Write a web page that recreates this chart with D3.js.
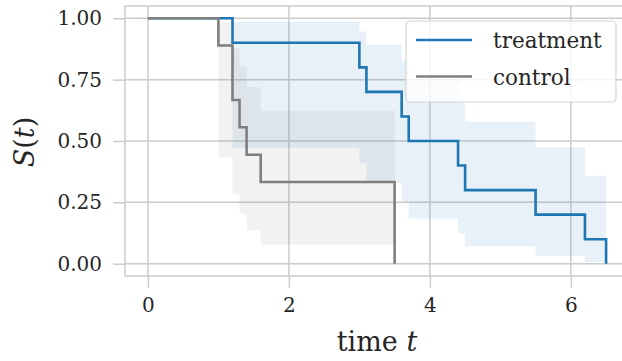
<!DOCTYPE html>
<html lang="en">
<head>
<meta charset="UTF-8">
<title>Survival curves</title>
<script src="https://d3js.org/d3.v7.min.js"></script>
<style>
  body { margin: 0; background: #fff; }
  svg text { font-family: "DejaVu Serif", serif; fill: #262626; }
</style>
</head>
<body>
<div id="chart"></div>
<script>

// Kaplan-Meier estimates (null = no interval once S hits 0)
const treatTimes = [0, 1.2, 3.0, 3.1, 3.6, 3.7, 4.4, 4.5, 5.5, 6.2, 6.5];
const treatSurv  = [1, 0.9, 0.8, 0.7, 0.6, 0.5, 0.4, 0.3, 0.2, 0.1, 0];
const treatUpper = [1, 0.985, 0.946, 0.892, 0.827, 0.753, 0.670, 0.578, 0.475, 0.358, null];
const treatLower = [1, 0.473, 0.409, 0.329, 0.253, 0.184, 0.123, 0.071, 0.031, 0.006, null];

const ctrlTimes = [0, 1.0, 1.2, 1.3, 1.4, 1.6, 3.5];
const ctrlSurv  = [1, 0.889, 0.667, 0.556, 0.444, 0.333, 0];
const ctrlUpper = [1, 0.984, 0.878, 0.805, 0.719, 0.623, null];
const ctrlLower = [1, 0.433, 0.282, 0.204, 0.136, 0.078, null];

const xTicks = [0, 2, 4, 6];
const yTicks = [0, 0.25, 0.5, 0.75, 1];
const seriesNames = ["treatment", "control"];

const W = 622, H = 361;
const mLeft = 125, mTop = 6, mRight = 629, mBottom = 276;
const gridColor = "#cccccc";
const colors = {treatment: "#1f77b4", control: "#7f7f7f"};

const x = d3.scaleLinear().domain([-0.325, 6.825]).range([mLeft, mRight]);
const y = d3.scaleLinear().domain([-0.05, 1.05]).range([mBottom, mTop]);

const svg = d3.select("#chart").append("svg")
    .attr("width", W)
    .attr("height", H);

// grid
svg.append("g").selectAll("line")
    .data(xTicks)
    .join("line")
    .attr("x1", d => x(d)).attr("x2", d => x(d))
    .attr("y1", mTop).attr("y2", mBottom)
    .attr("stroke", gridColor).attr("stroke-width", 1.5);
svg.append("g").selectAll("line")
    .data(yTicks)
    .join("line")
    .attr("x1", mLeft).attr("x2", mRight)
    .attr("y1", d => y(d)).attr("y2", d => y(d))
    .attr("stroke", gridColor).attr("stroke-width", 1.5);

// axes
const xAxis = svg.append("g")
    .attr("transform", `translate(0,${mBottom})`)
    .call(d3.axisBottom(x).tickValues(xTicks).tickFormat(d3.format("d")).tickSize(12).tickPadding(10));
const yAxis = svg.append("g")
    .attr("transform", `translate(${mLeft},0)`)
    .call(d3.axisLeft(y).tickValues(yTicks).tickFormat(d3.format(".2f")).tickSize(12).tickPadding(11));
[xAxis, yAxis].forEach(a => {
  a.select(".domain").remove();
  a.selectAll(".tick line").attr("stroke", gridColor).attr("stroke-width", 1.5);
  a.selectAll(".tick text").attr("font-size", 20).attr("font-family", "DejaVu Serif").attr("fill", "#262626");
});

function bandData(times, lo, hi) {
  return times.map((t, i) => ({
    t: t,
    lo: lo[i] != null ? lo[i] : lo[i - 1],
    hi: hi[i] != null ? hi[i] : hi[i - 1]
  }));
}

const band = d3.area()
    .curve(d3.curveStepAfter)
    .x(d => x(d.t))
    .y0(d => y(d.lo))
    .y1(d => y(d.hi));

const line = d3.line()
    .curve(d3.curveStepAfter)
    .x(d => x(d[0]))
    .y(d => y(d[1]));

const series = [
  {name: "treatment", times: treatTimes, surv: treatSurv, lo: treatLower, hi: treatUpper},
  {name: "control", times: ctrlTimes, surv: ctrlSurv, lo: ctrlLower, hi: ctrlUpper}
];

const plot = svg.append("g");
series.forEach(s => {
  plot.append("path")
      .attr("d", line(s.times.map((t, i) => [t, s.surv[i]])))
      .attr("fill", "none")
      .attr("stroke", colors[s.name])
      .attr("stroke-width", 2.6);
  plot.append("path")
      .attr("d", band(bandData(s.times, s.lo, s.hi)))
      .attr("fill", colors[s.name])
      .attr("fill-opacity", 0.1);
});

// frame
svg.append("rect")
    .attr("x", mLeft).attr("y", mTop)
    .attr("width", mRight - mLeft).attr("height", mBottom - mTop)
    .attr("fill", "none")
    .attr("stroke", gridColor).attr("stroke-width", 1.5);

// legend
const legend = svg.append("g").attr("transform", "translate(406,21)");
legend.append("rect")
    .attr("width", 210).attr("height", 81).attr("rx", 4)
    .attr("fill", "#fff").attr("fill-opacity", 0.8)
    .attr("stroke", "#d6d6d6").attr("stroke-width", 1.2);
seriesNames.forEach((name, i) => {
  const ly = 19 + i * 36.5;
  legend.append("line")
      .attr("x1", 10).attr("x2", 66)
      .attr("y1", ly).attr("y2", ly)
      .attr("stroke", colors[name]).attr("stroke-width", 2.6);
  legend.append("text")
      .attr("x", 87).attr("y", ly + 8)
      .attr("font-size", 21.5)
      .text(name);
});

// axis labels
svg.append("text")
    .attr("x", (mLeft + mRight) / 2).attr("y", 351)
    .attr("text-anchor", "middle")
    .attr("font-size", 27)
    .html('time <tspan font-style="italic">t</tspan>');

svg.append("text")
    .attr("transform", "translate(34,142) rotate(-90)")
    .attr("text-anchor", "middle")
    .attr("font-size", 27)
    .html('<tspan font-style="italic">S</tspan>(<tspan font-style="italic">t</tspan>)');

</script>
</body>
</html>
